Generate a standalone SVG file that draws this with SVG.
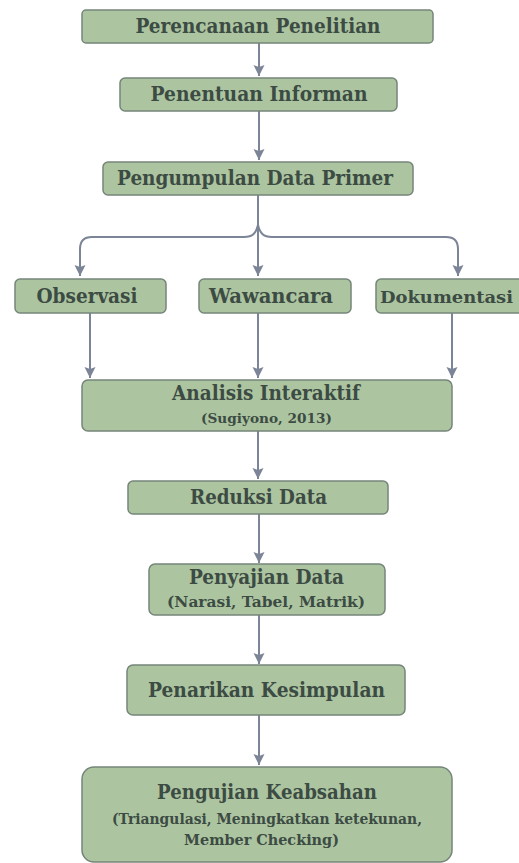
<svg xmlns="http://www.w3.org/2000/svg" width="519" height="863" viewBox="0 0 519 863">
<defs>
<style>
.box{fill:#acc5a0;stroke:#75857a;stroke-width:1.5}
.t{font-family:"DejaVu Serif","Liberation Serif",serif;font-weight:bold;fill:#3c4b43;text-anchor:middle}
.m{font-size:20px}
.s{font-size:14px}
.c{fill:none;stroke:#7b8597;stroke-width:2}
</style>
<marker id="ah" markerUnits="userSpaceOnUse" markerWidth="12" markerHeight="12" refX="11" refY="6" orient="auto">
<path d="M0,0.5 L11,6 L0,11.5 L2,6 z" fill="#7b8597"/>
</marker>
</defs>
<rect width="519" height="863" fill="#ffffff"/>
<g id="connectors">
<path class="c" d="M259,43 L259,76" marker-end="url(#ah)"/>
<path class="c" d="M259,111 L259,160" marker-end="url(#ah)"/>
<path class="c" d="M258,195 L258,276" marker-end="url(#ah)"/>
<path class="c" d="M258,225 C256,233 253,237 244,237 L92,237 Q80,237 80,249 L80,276" marker-end="url(#ah)"/>
<path class="c" d="M258,225 C260,233 263,237 272,237 L446,237 Q458,237 458,249 L458,276" marker-end="url(#ah)"/>
<path class="c" d="M90,313 L90,378" marker-end="url(#ah)"/>
<path class="c" d="M258,313 L258,378" marker-end="url(#ah)"/>
<path class="c" d="M452,313 L452,378" marker-end="url(#ah)"/>
<path class="c" d="M258,431 L258,479" marker-end="url(#ah)"/>
<path class="c" d="M259,514 L259,563" marker-end="url(#ah)"/>
<path class="c" d="M259,615 L259,664" marker-end="url(#ah)"/>
<path class="c" d="M259,715 L259,765" marker-end="url(#ah)"/>
</g>
<g id="n1"><rect class="box" x="82" y="10" width="351" height="33" rx="4"/><text class="t m" x="258" y="33" textLength="245" lengthAdjust="spacingAndGlyphs">Perencanaan Penelitian</text></g>
<g id="n2"><rect class="box" x="120" y="78" width="277" height="33" rx="5"/><text class="t m" x="259" y="101" textLength="217" lengthAdjust="spacingAndGlyphs">Penentuan Informan</text></g>
<g id="n3"><rect class="box" x="103" y="162" width="310" height="33" rx="5"/><text class="t m" x="255" y="185" textLength="276" lengthAdjust="spacingAndGlyphs">Pengumpulan Data Primer</text></g>
<g id="n4"><rect class="box" x="15" y="279" width="151" height="34" rx="5"/><text class="t m" x="87" y="303" textLength="101" lengthAdjust="spacingAndGlyphs">Observasi</text></g>
<g id="n5"><rect class="box" x="199" y="279" width="152" height="34" rx="5"/><text class="t m" x="271" y="303" textLength="124" lengthAdjust="spacingAndGlyphs">Wawancara</text></g>
<g id="n6"><rect class="box" x="376" y="279" width="160" height="34" rx="5"/><text class="t" style="font-size:17.5px" x="446.5" y="303" textLength="133" lengthAdjust="spacingAndGlyphs">Dokumentasi</text></g>
<g id="n7"><rect class="box" x="82" y="380" width="370" height="51" rx="6"/><text class="t m" x="266" y="400" textLength="188" lengthAdjust="spacingAndGlyphs">Analisis Interaktif</text><text class="t" style="font-size:13px" x="266.5" y="423" textLength="131" lengthAdjust="spacingAndGlyphs">(Sugiyono, 2013)</text></g>
<g id="n8"><rect class="box" x="128" y="481" width="260" height="33" rx="5"/><text class="t m" x="258.5" y="504" textLength="137" lengthAdjust="spacingAndGlyphs">Reduksi Data</text></g>
<g id="n9"><rect class="box" x="149" y="564" width="236" height="51" rx="6"/><text class="t m" x="266.5" y="584" textLength="155" lengthAdjust="spacingAndGlyphs">Penyajian Data</text><text class="t" style="font-size:15px" x="266" y="607" textLength="198" lengthAdjust="spacingAndGlyphs">(Narasi, Tabel, Matrik)</text></g>
<g id="n10"><rect class="box" x="127" y="665" width="278" height="50" rx="6"/><text class="t m" x="266.5" y="697" textLength="237" lengthAdjust="spacingAndGlyphs">Penarikan Kesimpulan</text></g>
<g id="n11"><rect class="box" x="82" y="767" width="370" height="95" rx="12"/><text class="t m" x="267" y="799" textLength="220" lengthAdjust="spacingAndGlyphs">Pengujian Keabsahan</text><text class="t s" x="267" y="824" textLength="310" lengthAdjust="spacingAndGlyphs">(Triangulasi, Meningkatkan ketekunan,</text><text class="t s" x="261.5" y="845" textLength="155" lengthAdjust="spacingAndGlyphs">Member Checking)</text></g>
</svg>
